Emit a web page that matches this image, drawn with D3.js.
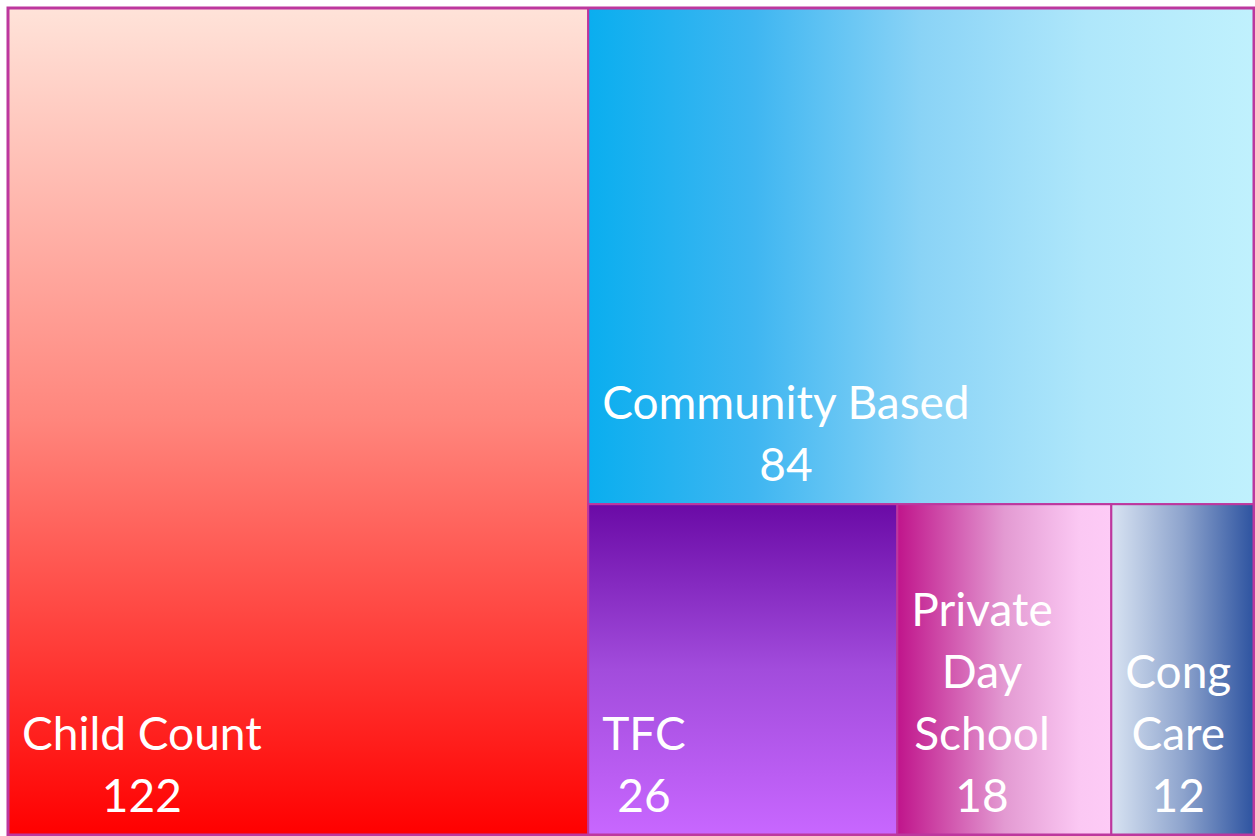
<!DOCTYPE html>
<html>
<head>
<meta charset="utf-8">
<script src="https://cdn.jsdelivr.net/npm/d3@7"></script>
<style>
  html, body { margin: 0; padding: 0; background: #ffffff; }
  svg { display: block; }
</style>
</head>
<body>
<svg id="chart" width="1255" height="836"></svg>
<script>
// Placement categories and child counts
const categories = ["Child Count", "Community Based", "TFC", "Private Day School", "Cong Care"];
const counts = [122, 84, 26, 18, 12];

// Gradient fill per category: direction and colour stops
const gradientDirs = ["vertical", "horizontal", "vertical", "horizontal", "horizontal"];
const gradientStops = [
  [[0, "#ffe3d9"], [0.5, "#ff857c"], [1, "#ff0000"]],
  [[0, "#0aaeef"], [0.25, "#3fb6f1"], [0.5, "#8ad3f6"], [0.75, "#afe7fb"], [1, "#c0f1fd"]],
  [[0, "#6a0aa6"], [0.5, "#a24cdc"], [1, "#c867ff"]],
  [[0, "#c0148b"], [0.5, "#e39ad2"], [0.85, "#fbc8f3"], [1, "#fdcbf6"]],
  [[0, "#d8e3f2"], [0.5, "#8ea4cd"], [1, "#2d53a0"]]
];

const W = 1255, H = 836;
const margin = { left: 8, top: 8, right: 1, bottom: 1 };
const innerW = W - margin.left - margin.right;
const innerH = H - margin.top - margin.bottom;
const borderColor = "#bd379e";
const fontFamily = "Lato, 'Open Sans', sans-serif";
const fontSize = 46;
const lineHeight = 62;
const pad = 14;

const svg = d3.select("#chart");
const defs = svg.append("defs");

categories.forEach((c, i) => {
  const g = defs.append("linearGradient")
    .attr("id", "grad" + i)
    .attr("x1", "0").attr("y1", "0")
    .attr("x2", gradientDirs[i] === "horizontal" ? "1" : "0")
    .attr("y2", gradientDirs[i] === "vertical" ? "1" : "0");
  gradientStops[i].forEach(([o, col]) => {
    g.append("stop").attr("offset", o).attr("stop-color", col);
  });
});

const root = d3.hierarchy({
  children: categories.map((name, i) => ({ name, value: counts[i], idx: i }))
})
  .sum(d => d.value || 0)
  .sort((a, b) => b.value - a.value);

d3.treemap()
  .tile(d3.treemapSquarify.ratio(1))
  .size([innerW, innerH])
  .round(false)(root);

const plot = svg.append("g").attr("transform", `translate(${margin.left},${margin.top})`);

const cells = plot.selectAll("g.cell")
  .data(root.leaves())
  .join("g")
  .attr("class", "cell");

cells.append("rect")
  .attr("x", d => d.x0)
  .attr("y", d => d.y0)
  .attr("width", d => d.x1 - d.x0)
  .attr("height", d => d.y1 - d.y0)
  .attr("fill", d => `url(#grad${d.data.idx})`)
  .attr("stroke", borderColor)
  .attr("stroke-width", 2);

// outer frame
plot.append("rect")
  .attr("x", 0).attr("y", 0)
  .attr("width", innerW).attr("height", innerH)
  .attr("fill", "none")
  .attr("stroke", borderColor)
  .attr("stroke-width", 3);

// text measurement helper
const measurer = svg.append("text")
  .attr("font-family", fontFamily)
  .attr("font-size", fontSize)
  .attr("visibility", "hidden");
function textWidth(s) {
  measurer.text(s);
  return measurer.node().getComputedTextLength();
}

function wrap(name, maxW) {
  const words = name.split(" ");
  const lines = [];
  let cur = "";
  words.forEach(w => {
    const trial = cur ? cur + " " + w : w;
    if (cur && textWidth(trial) > maxW) {
      lines.push(cur);
      cur = w;
    } else {
      cur = trial;
    }
  });
  if (cur) lines.push(cur);
  return lines;
}

cells.each(function (d) {
  const cellW = d.x1 - d.x0;
  const lines = wrap(d.data.name, cellW - 2 * pad);
  lines.push(String(d.data.value));
  const blockW = d3.max(lines, l => textWidth(l));
  const cx = d.x0 + pad + blockW / 2;
  const lastBaseline = d.y1 - 23;
  const t = d3.select(this).append("text")
    .attr("font-family", fontFamily)
    .attr("font-size", fontSize)
    .attr("fill", "#ffffff")
    .attr("text-anchor", "middle");
  lines.forEach((l, k) => {
    t.append("tspan")
      .attr("x", cx)
      .attr("y", lastBaseline - (lines.length - 1 - k) * lineHeight)
      .text(l);
  });
});

measurer.remove();
</script>
</body>
</html>
